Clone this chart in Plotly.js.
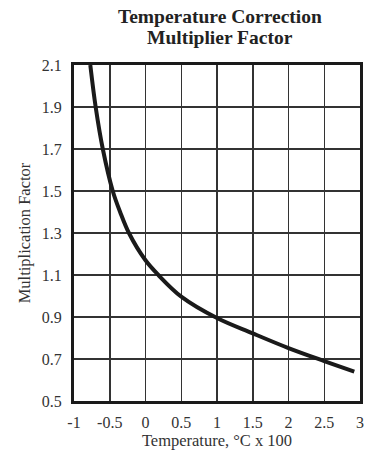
<!DOCTYPE html>
<html>
<head>
<meta charset="utf-8">
<script src="https://cdn.plot.ly/plotly-3.0.1.min.js"></script>
<style>html,body{margin:0;padding:0;background:#fff;}#chart{width:368px;height:455px;}</style>
</head>
<body>
<div id="chart"></div>
<script>
// Curve
const temperature = [-0.772, -0.697, -0.597, -0.458, -0.355, -0.232, 0.0, 0.18, 0.5, 1.0, 1.5, 2.0, 2.5, 2.92];
const factor      = [2.10, 1.90, 1.70, 1.50, 1.40, 1.30, 1.17, 1.10, 0.997, 0.895, 0.822, 0.752, 0.69, 0.64];

const xTickVals = [-1, -0.5, 0, 0.5, 1, 1.5, 2, 2.5, 3];
const xTickText = ['-1', '-0.5', '0', '0.5', '1', '1.5', '2', '2.5', '3'];
const yTickVals = [0.5, 0.7, 0.9, 1.1, 1.3, 1.5, 1.7, 1.9, 2.1];
const yTickText = ['0.5', '0.7', '0.9', '1.1', '1.3', '1.5', '1.7', '1.9', '2.1'];

const titleLines = ['Temperature Correction', 'Multiplier Factor'];

const font = 'Liberation Serif, Times New Roman, serif';

Plotly.newPlot('chart', [{
  x: temperature, y: factor, type: 'scatter', mode: 'lines',
  line: {color: '#1a1a1a', width: 4, shape: 'spline', smoothing: 1.0},
  hoverinfo: 'skip'
}], {
  width: 368, height: 455,
  margin: {l: 74, r: 8, t: 65, b: 54},
  paper_bgcolor: '#fff', plot_bgcolor: '#fff',
  showlegend: false,
  annotations: [
    {text: '<b>' + titleLines[0] + '</b>', xref: 'paper', yref: 'paper', x: 0.51, y: 1.143,
     xanchor: 'center', yanchor: 'middle', showarrow: false, font: {family: font, size: 19.5, color: '#222'}},
    {text: '<b>' + titleLines[1] + '</b>', xref: 'paper', yref: 'paper', x: 0.51, y: 1.082,
     xanchor: 'center', yanchor: 'middle', showarrow: false, font: {family: font, size: 19.5, color: '#222'}}
  ],
  xaxis: {
    range: [-1, 3], tickvals: xTickVals, ticktext: xTickText,
    showgrid: true, gridcolor: '#333', gridwidth: 1.5,
    zeroline: false, showline: true, mirror: true, linecolor: '#1a1a1a', linewidth: 3,
    ticks: 'outside', ticklen: 5, tickcolor: 'rgba(0,0,0,0)',
    tickfont: {family: font, size: 16, color: '#333'},
    title: {text: 'Temperature, °C x 100', font: {family: font, size: 16.5, color: '#333'}, standoff: 4}
  },
  yaxis: {
    range: [0.5, 2.1], tickvals: yTickVals, ticktext: yTickText,
    showgrid: true, gridcolor: '#333', gridwidth: 1.5,
    zeroline: false, showline: true, mirror: true, linecolor: '#1a1a1a', linewidth: 3,
    ticks: 'outside', ticklen: 6, tickcolor: 'rgba(0,0,0,0)',
    tickfont: {family: font, size: 16, color: '#333'},
    title: {text: 'Multiplication Factor', font: {family: font, size: 16.5, color: '#333'}, standoff: 8}
  }
}, {displayModeBar: false, staticPlot: true});
</script>
</body>
</html>
